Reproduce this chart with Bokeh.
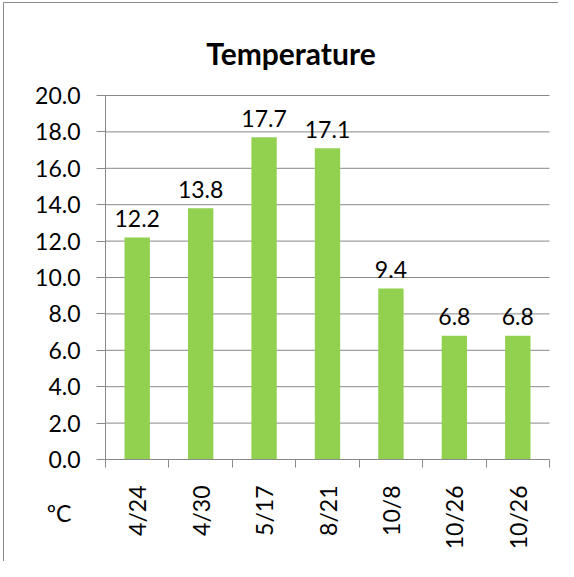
import math
from bokeh.plotting import figure
from bokeh.models import Range1d, FixedTicker, NumeralTickFormatter, Label, ColumnDataSource
from bokeh.core.properties import value
from bokeh.embed import file_html
from bokeh.resources import INLINE

# data
dates = ["4/24", "4/30", "5/17", "8/21", "10/8", "10/26", "10/26"]
temps = [12.2, 13.8, 17.7, 17.1, 9.4, 6.8, 6.8]
title_text = "Temperature"
unit_text = "ºC"
y_ticks = [0, 2, 4, 6, 8, 10, 12, 14, 16, 18, 20]
y_min, y_max = 0, 20

FONT = "Lato"
GRID = "#898989"
BAR = "#92D050"
FS = "23px"

# layout (pixels on the canvas)
W, H = 558, 561
PL, PR, PT, PB = 105, 549, 95, 459   # plot area

n = len(dates)
xu = (PR - PL) / n
yu = (PB - PT) / (y_max - y_min)
def px2x(px): return -0.5 + (px - PL) / xu
def px2y(py): return y_min + (PB - py) / yu

xs = list(range(n))
src = ColumnDataSource(dict(x=xs, y=temps, lab=[f"{t:.1f}" for t in temps]))
grid_src = ColumnDataSource(dict(y=y_ticks[1:], x0=[-0.5] * (len(y_ticks) - 1), x1=[n - 0.5] * (len(y_ticks) - 1)))

p = figure(width=W, height=H, output_backend="svg", toolbar_location=None,
           x_range=Range1d(px2x(0), px2x(W)), y_range=Range1d(px2y(H), px2y(0)),
           min_border_left=0, min_border_right=0, min_border_top=0, min_border_bottom=0,
           outline_line_color=None, background_fill_color="white", border_fill_color="white")
p.xgrid.visible = False
p.ygrid.visible = False

# outer chart border (top and left edges)
p.segment(x0=[px2x(3), px2x(3)], y0=[px2y(2), px2y(2)], x1=[px2x(W + 10), px2x(3)], y1=[px2y(2), px2y(H + 10)],
          line_color="#8a8a8a", line_width=1)

p.segment(x0="x0", x1="x1", y0="y", y1="y", source=grid_src, line_color=GRID, line_width=1)
p.vbar(x="x", top="y", width=0.4, source=src, fill_color=BAR, line_color=None)
p.text(x="x", y="y", text="lab", source=src, y_offset=-19, text_align="center",
       text_baseline="alphabetic", text_font=value(FONT), text_font_size=FS, text_color="#000000")

# x axis
xa = p.xaxis[0]
xa.fixed_location = y_min
xa.bounds = (-0.5, n - 0.5)
xa.ticker = FixedTicker(ticks=xs, minor_ticks=[i - 0.5 for i in range(n + 1)])
xa.major_label_overrides = {i: d for i, d in enumerate(dates)}
xa.major_label_orientation = math.pi / 2
xa.major_tick_line_color = None
xa.major_tick_out = 8
xa.major_tick_in = 0
xa.minor_tick_line_color = GRID
xa.minor_tick_out = 8
xa.minor_tick_in = 0
xa.axis_line_color = GRID
xa.major_label_standoff = 18
xa.major_label_text_font = FONT
xa.major_label_text_font_size = FS
xa.major_label_text_color = "#000000"

# y axis
ya = p.yaxis[0]
ya.fixed_location = -0.5
ya.bounds = (y_min, y_max)
ya.ticker = FixedTicker(ticks=y_ticks)
ya.formatter = NumeralTickFormatter(format="0.0")
ya.major_tick_line_color = GRID
ya.major_tick_out = 9
ya.major_tick_in = 0
ya.minor_tick_line_color = None
ya.axis_line_color = GRID
ya.major_label_standoff = 16
ya.major_label_text_font = FONT
ya.major_label_text_font_size = FS
ya.major_label_text_color = "#000000"

p.add_layout(Label(x=px2x(290.5), y=px2y(52), text=title_text, text_align="center", text_baseline="alphabetic",
                   text_font=FONT, text_font_size="30px", text_font_style="bold", text_color="#000000"))
p.add_layout(Label(x=px2x(58.5), y=px2y(512), text=unit_text, text_align="center", text_baseline="alphabetic",
                   text_font=FONT, text_font_size=FS, text_color="#000000"))

open("out.html", "w").write(file_html(p, INLINE))
